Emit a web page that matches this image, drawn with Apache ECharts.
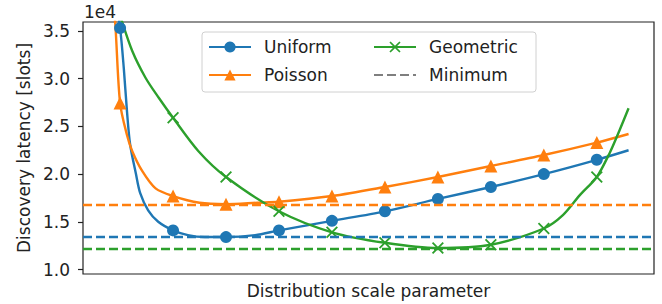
<!DOCTYPE html>
<html>
<head>
<meta charset="utf-8">
<script src="https://cdn.jsdelivr.net/npm/echarts@6/dist/echarts.min.js"></script>
<style>
  html, body { margin: 0; padding: 0; background: #fff; }
  #chart { width: 662px; height: 304px; }
</style>
</head>
<body>
<div id="chart"></div>
<script>
// latency values in units of 1e4 slots
const markerX = [1, 2, 3, 4, 5, 6, 7, 8, 9, 10];
const yTicks = [1.0, 1.5, 2.0, 2.5, 3.0, 3.5];

const uniformCurve = [
  [0.8, 4.3], [1, 3.53], [1.07, 3.11], [1.13, 2.66], [1.19, 2.31], [1.3, 2.0],
  [1.38, 1.8], [1.53, 1.62], [1.72, 1.5], [2, 1.41], [2.28, 1.36], [2.6, 1.34],
  [3, 1.34], [3.55, 1.36], [4, 1.41], [5, 1.51], [6, 1.61], [7, 1.74],
  [8, 1.865], [9, 2.0], [10, 2.15], [10.6, 2.25]
];
const poissonCurve = [
  [0.8, 4.3], [0.91, 3.57], [1, 2.745], [1.13, 2.41], [1.23, 2.24], [1.42, 2.03],
  [1.67, 1.85], [2, 1.77], [2.5, 1.7], [3, 1.685], [3.6, 1.7], [4, 1.71],
  [5, 1.77], [6, 1.865], [7, 1.97], [8, 2.085], [9, 2.2], [10, 2.33], [10.6, 2.42]
];
const geometricCurve = [
  [0.8, 4.0], [1, 3.66], [1.23, 3.29], [1.48, 3.01], [1.73, 2.8], [2, 2.59],
  [2.48, 2.24], [3, 1.97], [4, 1.61], [5, 1.39], [6, 1.28], [7, 1.225],
  [8, 1.26], [9, 1.43], [9.36, 1.57], [9.68, 1.78], [10, 1.97], [10.25, 2.23],
  [10.43, 2.46], [10.6, 2.69]
];
const uniformMin = 1.338;
const poissonMin = 1.68;
const geometricMin = 1.222;

const crossPath = "path://M0,1.3L1.3,0L6,4.7L10.7,0L12,1.3L7.3,6L12,10.7L10.7,12L6,7.3L1.3,12L0,10.7L4.7,6Z";
const font = "DejaVu Sans";

function curveSeries(name, curve, color, symbol, size, minValue) {
  return {
    name: name,
    type: "line",
    data: curve.map(p => markerX.indexOf(p[0]) >= 0 ? { value: p } : { value: p, symbol: "none" }),
    symbol: symbol,
    symbolSize: size,
    showAllSymbol: true,
    smooth: 0.3,
    color: color,
    lineStyle: { color: color, width: 2.4 },
    itemStyle: { color: color },
    emphasis: { disabled: true },
    markLine: {
      silent: true,
      symbol: "none",
      label: { show: false },
      lineStyle: { color: color, type: [9, 4], width: 2.4 },
      data: [{ yAxis: minValue }]
    }
  };
}

const chart = echarts.init(document.getElementById("chart"), null, { renderer: "svg" });
chart.setOption({
  animation: false,
  textStyle: { fontFamily: font },
  grid: {
    left: 83, right: 8, top: 22, bottom: 30,
    show: true, borderColor: "#222", borderWidth: 1.2, backgroundColor: "transparent"
  },
  xAxis: {
    type: "value",
    min: 0.3,
    max: 11.08,
    axisLine: { show: false },
    axisTick: { show: false },
    axisLabel: { show: false },
    splitLine: { show: false },
    name: "Distribution scale parameter",
    nameLocation: "middle",
    nameGap: 8,
    nameTextStyle: { fontSize: 17, color: "#222", fontFamily: font }
  },
  yAxis: {
    type: "value",
    min: 0.953,
    max: 3.594,
    axisLine: { show: false },
    axisTick: { show: true, length: 5, customValues: yTicks, lineStyle: { color: "#222", width: 1.2 } },
    axisLabel: {
      customValues: yTicks,
      formatter: v => v.toFixed(1),
      fontSize: 17, color: "#222", margin: 13, fontFamily: font
    },
    splitLine: { show: false },
    name: "Discovery latency [slots]",
    nameLocation: "middle",
    nameGap: 50,
    nameTextStyle: { fontSize: 17, color: "#222", fontFamily: font }
  },
  legend: [
    {
      data: ["Uniform", "Poisson"],
      orient: "vertical", left: 208, top: 37, padding: 0,
      itemWidth: 42, itemHeight: 14, itemGap: 8,
      textStyle: { fontSize: 17, color: "#222", lineHeight: 20, padding: [0, 0, 0, 8], fontFamily: font }
    },
    {
      data: ["Geometric", { name: "Minimum", itemStyle: { opacity: 0 } }],
      orient: "vertical", left: 373, top: 37, padding: 0,
      itemWidth: 42, itemHeight: 14, itemGap: 8,
      textStyle: { fontSize: 17, color: "#222", lineHeight: 20, padding: [0, 0, 0, 8], fontFamily: font }
    }
  ],
  graphic: [
    {
      type: "rect", z: 3, silent: true,
      shape: { x: 202, y: 32, width: 334, height: 60, r: 3 },
      style: { fill: "rgba(255,255,255,0.8)", stroke: "#d0d0d0", lineWidth: 1 }
    },
    {
      type: "text", left: 84, top: 3, silent: true,
      style: { text: "1e4", fontSize: 17, fill: "#222", fontFamily: font }
    }
  ],
  series: [
    curveSeries("Uniform", uniformCurve, "#1f77b4", "circle", 12, uniformMin),
    curveSeries("Poisson", poissonCurve, "#ff7f0e", "triangle", 13, poissonMin),
    curveSeries("Geometric", geometricCurve, "#2ca02c", crossPath, 12, geometricMin),
    {
      name: "Minimum",
      type: "line",
      data: [],
      symbol: "none",
      color: "#7f7f7f",
      lineStyle: { color: "#7f7f7f", type: [9, 4], width: 2.4 },
      itemStyle: { color: "#7f7f7f" }
    }
  ]
});
</script>
</body>
</html>
